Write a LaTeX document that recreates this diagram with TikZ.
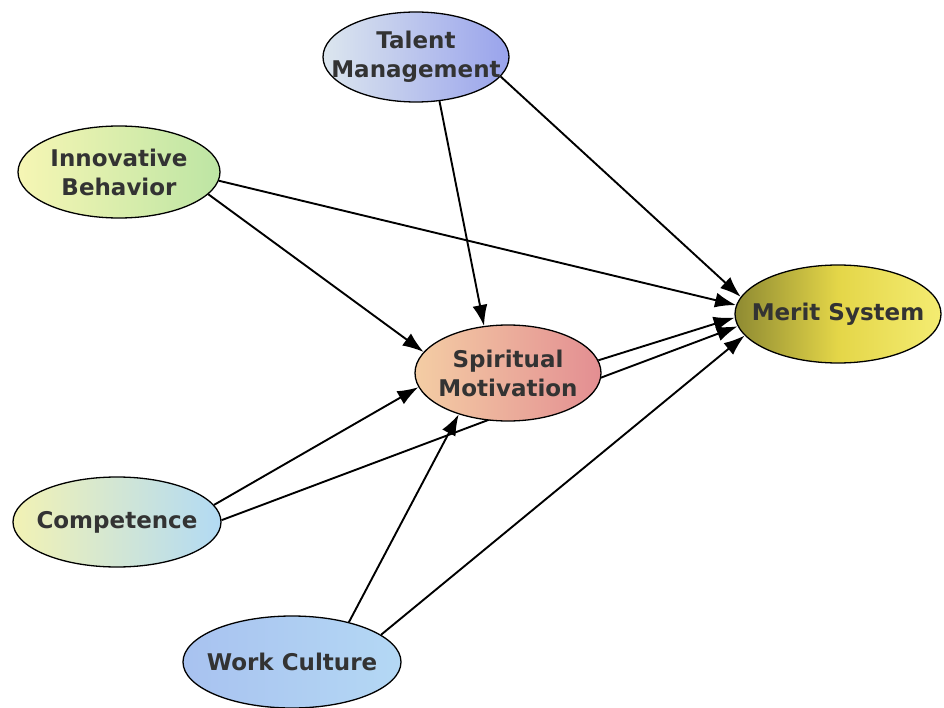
\documentclass[tikz,border=0pt]{standalone}
\usepackage{fontspec}
\setmainfont{DejaVu Sans}
\usepackage{tikz}
\usetikzlibrary{shapes,arrows.meta,backgrounds}

\definecolor{txtgray}{HTML}{333333}
\definecolor{tmL}{HTML}{DCE6EE}
\definecolor{tmR}{HTML}{99A3EC}
\definecolor{ibL}{HTML}{F6F6B4}
\definecolor{ibR}{HTML}{BDE5A4}
\definecolor{msL}{HTML}{8E8A32}
\definecolor{msM}{HTML}{E4D648}
\definecolor{msR}{HTML}{F4EC72}
\definecolor{smL}{HTML}{F4CDA4}
\definecolor{smR}{HTML}{E38E92}
\definecolor{coL}{HTML}{F2F2B4}
\definecolor{coR}{HTML}{B2DAF4}
\definecolor{wcL}{HTML}{A8C2F0}
\definecolor{wcR}{HTML}{B4D8F4}

\begin{document}
\begin{tikzpicture}
[x=1pt,y=-1pt]
\tikzset{
	concept/.style = {ellipse, draw, line width=1.3pt, inner xsep=-60pt, inner ysep=-20pt, align=center, text=txtgray, font=\bfseries\fontsize{23}{29}\selectfont},
	link/.style = {line width=1.9pt, -{Latex[length=21pt,width=15pt]}}
}
\useasboundingbox (0,0) rectangle (944,708);

\node(talent) [concept, minimum width=186, minimum height=90, left color=tmL, right color=tmR] at (416,57) {Talent\\Management};
\node(innov) [concept, minimum width=202, minimum height=92, left color=ibL, right color=ibR] at (119,172) {Innovative\\Behavior};
\node(merit) [concept, minimum width=206, minimum height=98, left color=msL, right color=msR, middle color=msM] at (838,314) {Merit System};
\node(spirit) [concept, minimum width=186, minimum height=96, left color=smL, right color=smR] at (508,373) {Spiritual\\Motivation};
\node(comp) [concept, minimum width=208, minimum height=90, left color=coL, right color=coR] at (117,522) {Competence};
\node(work) [concept, minimum width=218, minimum height=92, left color=wcL, right color=wcR] at (292,662) {Work Culture};

\begin{scope}[on background layer]
	\draw[link] (talent.-62) -- (spirit.117);
	\draw[link] (talent.-13) -- (merit.170);
	\draw[link] (innov.-14) -- (spirit.166);
	\draw[link] (innov.-5) -- (merit.175);
	\draw[link] (spirit.8) -- (merit.182);
	\draw[link] (comp.10) -- (spirit.189);
	\draw[link] (comp.1) -- (merit.187);
	\draw[link] (work.35) -- (spirit.220);
	\draw[link] (work.17) -- (merit.193);
\end{scope}

\end{tikzpicture}
\end{document}
